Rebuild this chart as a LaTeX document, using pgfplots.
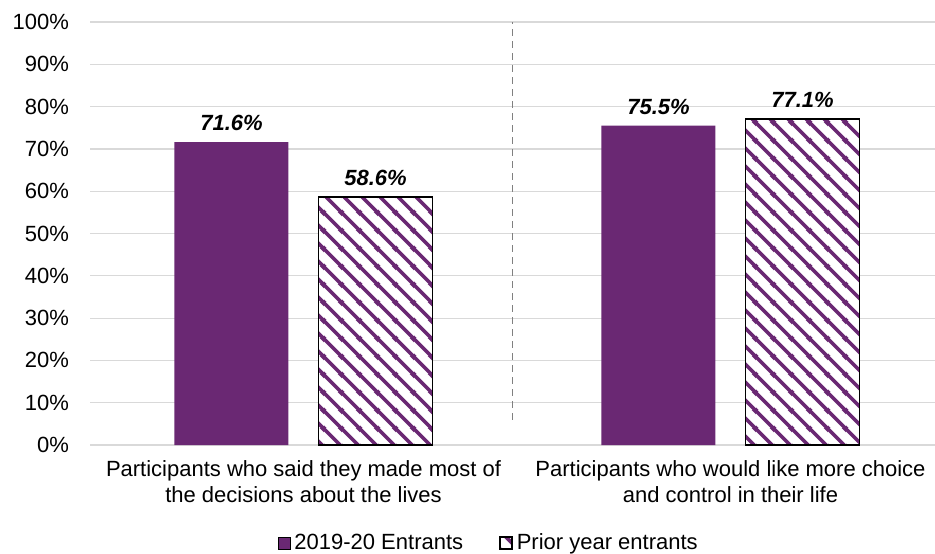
\documentclass[border=0pt]{standalone}
\usepackage{pgfplots}
\pgfplotsset{compat=1.18}
\usetikzlibrary{patterns.meta}
\usepackage{fontspec}
\setmainfont{Liberation Sans}
\definecolor{purp}{HTML}{6A2873}
\definecolor{gridc}{HTML}{D9D9D9}
\tikzdeclarepattern{
  name=purpstripes,
  type=uncolored,
  bounding box={(0pt,0pt) and (9pt,9pt)},
  tile size={(9pt,9pt)},
  code={
    \draw[line width=1.9pt] (-1pt,10pt) -- (10pt,-1pt);
    \draw[line width=1.9pt] (-2pt,2pt) -- (2pt,-2pt);
    \draw[line width=1.9pt] (7pt,11pt) -- (11pt,7pt);
  }
}
\begin{document}
\begin{tikzpicture}
\begin{axis}[
  at={(45pt,54pt)}, anchor=south west,
  scale only axis,
  width=422.5pt, height=211.5pt,
  font=\fontsize{11}{13}\selectfont,
  ybar=15pt, bar width=57pt,
  xmin=-0.5, xmax=1.479,
  ymin=0, ymax=100,
  xtick={0,1},
  xticklabels={Participants who said they made most of\\the decisions about the lives,
               Participants who would like more choice\\and control in their life},
  xticklabel style={align=center, yshift=-4pt},
  ytick={0,10,...,100},
  yticklabel={\pgfmathprintnumber{\tick}\%},
  yticklabel style={xshift=-7pt},
  /pgf/number format/assume math mode=true,
  major tick length=0pt,
  ymajorgrids, grid style={gridc, line width=0.6pt},
  axis line style={draw=none},
  nodes near coords={\pgfmathprintnumber[fixed,precision=1,fixed zerofill]{\pgfplotspointmeta}\%},
  nodes near coords style={font=\fontsize{11}{13}\selectfont\bfseries\itshape, black, yshift=2pt},
  legend style={draw=none, at={(0.473,-0.19)}, anchor=north, legend columns=2,
    font=\fontsize{11}{13}\selectfont,
    /tikz/every even column/.append style={column sep=16pt}},
  legend image code/.code={\draw[#1] (0pt,-3pt) rectangle (6pt,3pt);},
  clip=false,
]
\addplot[fill=purp, draw=none] coordinates {(0,71.6) (1,75.5)};
\addplot[draw=black, line width=0.8pt, fill=white,
  postaction={pattern=purpstripes, pattern color=purp}]
  coordinates {(0,58.6) (1,77.1)};
\addplot[forget plot, sharp plot, no marks, nodes near coords={}, draw=gray, dash pattern=on 3.5pt off 2.5pt, line width=0.7pt]
  coordinates {(0.49,6) (0.49,100)};
\legend{2019-20 Entrants, Prior year entrants}
\end{axis}
\pgfresetboundingbox
\path (0,0) rectangle (467.5pt,276.5pt);
\end{tikzpicture}
\end{document}
